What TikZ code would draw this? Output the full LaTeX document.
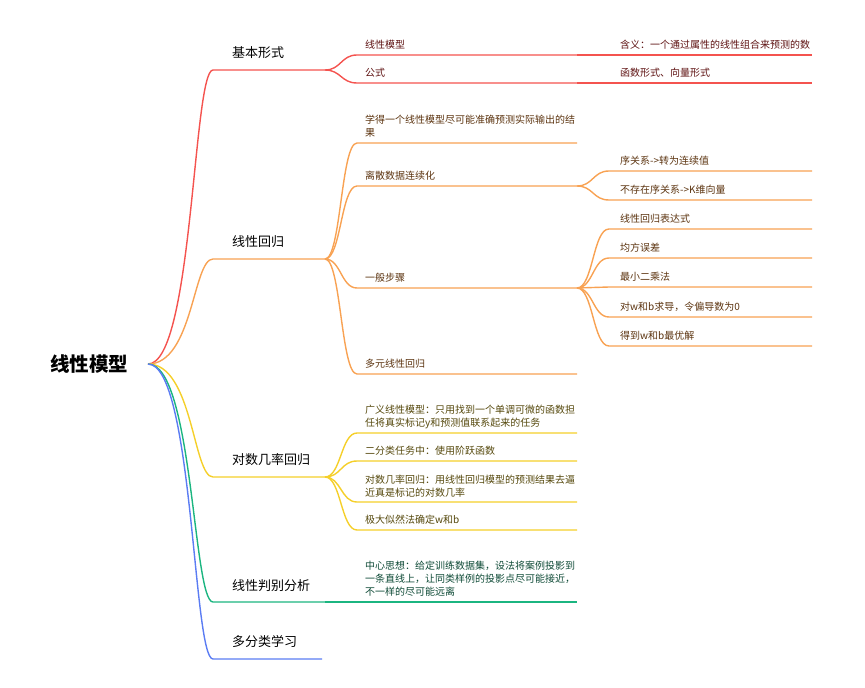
\documentclass[tikz,border=0pt]{standalone}
\usepackage{fontspec}
\setmainfont{Noto Sans CJK SC}
\usepackage{tikz}
\usepackage{color}
\definecolor{lred}{HTML}{F4534F}
\definecolor{lorange}{HTML}{F8A253}
\definecolor{lyellow}{HTML}{F5CF2A}
\definecolor{lgreen}{HTML}{1BB580}
\definecolor{lblue}{HTML}{5B7CF3}
\definecolor{tred}{HTML}{5E1212}
\definecolor{torange}{HTML}{5C3410}
\definecolor{tyellow}{HTML}{55480C}
\definecolor{tgreen}{HTML}{0E4A36}

\begin{document}
\begin{tikzpicture}[x=1pt,y=-1pt,
	every node/.style={inner sep=0pt},
	rootnode/.style={font=\bfseries\fontsize{19.5}{22}\selectfont, text=black},
	topic/.style={anchor=west, font=\fontsize{13}{15}\selectfont, text=black},
	leaf/.style={anchor=west, align=left, font=\fontsize{10}{13}\selectfont},
	branch/.style={line width=1.4pt}]
	\useasboundingbox (0,0) rectangle (865,688);

	\node[rootnode] (root) at (89,364) {线性模型};
	\coordinate (rj) at (148,364);

	% 基本形式
	\node[topic] (jbxs) at (232,53) {基本形式};
	\coordinate (jbxs-s) at (213,70); \coordinate (jbxs-e) at (325,70);
	\draw[branch, lred] (rj) .. controls +(45,0) and +(-20,0) .. (jbxs-s) -- (jbxs-e);
	\node[leaf, text=tred] (xxmx) at (365,44.5) {线性模型};
	\coordinate (xxmx-s) at (357,55); \coordinate (xxmx-e) at (577,55);
	\draw[branch, lred] (jbxs-e) .. controls +(16,0) and +(-16,0) .. (xxmx-s) -- (xxmx-e);
	\node[leaf, text=tred] (hy) at (620,44.5) {含义：一个通过属性的线性组合来预测的数};
	\coordinate (hy-s) at (609,55); \coordinate (hy-e) at (812,55);
	\draw[branch, lred] (xxmx-e) -- (hy-s) -- (hy-e);
	\node[leaf, text=tred] (gs) at (365,72.5) {公式};
	\coordinate (gs-s) at (357,83); \coordinate (gs-e) at (577,83);
	\draw[branch, lred] (jbxs-e) .. controls +(16,0) and +(-16,0) .. (gs-s) -- (gs-e);
	\node[leaf, text=tred] (hsxs) at (620,72.5) {函数形式、向量形式};
	\coordinate (hsxs-s) at (609,83); \coordinate (hsxs-e) at (812,83);
	\draw[branch, lred] (gs-e) -- (hsxs-s) -- (hsxs-e);

	% 线性回归
	\node[topic] (xxhg) at (232,242) {线性回归};
	\coordinate (xxhg-s) at (213,259); \coordinate (xxhg-e) at (325,259);
	\draw[branch, lorange] (rj) .. controls +(45,0) and +(-20,0) .. (xxhg-s) -- (xxhg-e);
	\node[leaf, text=torange] (xd) at (365,126.5) {学得一个线性模型尽可能准确预测实际输出的结\\果};
	\coordinate (xd-s) at (357,143); \coordinate (xd-e) at (577,143);
	\draw[branch, lorange] (xxhg-e) .. controls +(16,0) and +(-16,0) .. (xd-s) -- (xd-e);
	\node[leaf, text=torange] (lssj) at (365,175.5) {离散数据连续化};
	\coordinate (lssj-s) at (357,186); \coordinate (lssj-e) at (577,186);
	\draw[branch, lorange] (xxhg-e) .. controls +(16,0) and +(-16,0) .. (lssj-s) -- (lssj-e);
	\node[leaf, text=torange] (xgx) at (620,160.5) {序关系->转为连续值};
	\coordinate (xgx-s) at (609,171); \coordinate (xgx-e) at (812,171);
	\draw[branch, lorange] (lssj-e) .. controls +(16,0) and +(-16,0) .. (xgx-s) -- (xgx-e);
	\node[leaf, text=torange] (bcz) at (620,189.5) {不存在序关系->K维向量};
	\coordinate (bcz-s) at (609,200); \coordinate (bcz-e) at (812,200);
	\draw[branch, lorange] (lssj-e) .. controls +(16,0) and +(-16,0) .. (bcz-s) -- (bcz-e);
	\node[leaf, text=torange] (ybbz) at (365,277.5) {一般步骤};
	\coordinate (ybbz-s) at (357,288); \coordinate (ybbz-e) at (577,288);
	\draw[branch, lorange] (xxhg-e) .. controls +(16,0) and +(-16,0) .. (ybbz-s) -- (ybbz-e);
	\node[leaf, text=torange] (bds) at (620,218.5) {线性回归表达式};
	\coordinate (bds-s) at (609,229); \coordinate (bds-e) at (812,229);
	\draw[branch, lorange] (ybbz-e) .. controls +(16,0) and +(-16,0) .. (bds-s) -- (bds-e);
	\node[leaf, text=torange] (jfwc) at (620,247.5) {均方误差};
	\coordinate (jfwc-s) at (609,258); \coordinate (jfwc-e) at (812,258);
	\draw[branch, lorange] (ybbz-e) .. controls +(16,0) and +(-16,0) .. (jfwc-s) -- (jfwc-e);
	\node[leaf, text=torange] (zxec) at (620,276.5) {最小二乘法};
	\coordinate (zxec-s) at (609,287); \coordinate (zxec-e) at (812,287);
	\draw[branch, lorange] (ybbz-e) .. controls +(16,0) and +(-16,0) .. (zxec-s) -- (zxec-e);
	\node[leaf, text=torange] (qd) at (620,306.5) {对w和b求导，令偏导数为0};
	\coordinate (qd-s) at (609,317); \coordinate (qd-e) at (812,317);
	\draw[branch, lorange] (ybbz-e) .. controls +(16,0) and +(-16,0) .. (qd-s) -- (qd-e);
	\node[leaf, text=torange] (zyj) at (620,335.5) {得到w和b最优解};
	\coordinate (zyj-s) at (609,346); \coordinate (zyj-e) at (812,346);
	\draw[branch, lorange] (ybbz-e) .. controls +(16,0) and +(-16,0) .. (zyj-s) -- (zyj-e);
	\node[leaf, text=torange] (dyxx) at (365,363.5) {多元线性回归};
	\coordinate (dyxx-s) at (357,374); \coordinate (dyxx-e) at (577,374);
	\draw[branch, lorange] (xxhg-e) .. controls +(16,0) and +(-16,0) .. (dyxx-s) -- (dyxx-e);

	% 对数几率回归
	\node[topic] (dsjl) at (232,460) {对数几率回归};
	\coordinate (dsjl-s) at (213,477); \coordinate (dsjl-e) at (325,477);
	\draw[branch, lyellow] (rj) .. controls +(45,0) and +(-20,0) .. (dsjl-s) -- (dsjl-e);
	\node[leaf, text=tyellow] (gyxx) at (365,416.5) {广义线性模型：只用找到一个单调可微的函数担\\任将真实标记y和预测值联系起来的任务};
	\coordinate (gyxx-s) at (357,433); \coordinate (gyxx-e) at (577,433);
	\draw[branch, lyellow] (dsjl-e) .. controls +(16,0) and +(-16,0) .. (gyxx-s) -- (gyxx-e);
	\node[leaf, text=tyellow] (efl) at (365,450.5) {二分类任务中：使用阶跃函数};
	\coordinate (efl-s) at (357,461); \coordinate (efl-e) at (577,461);
	\draw[branch, lyellow] (dsjl-e) .. controls +(16,0) and +(-16,0) .. (efl-s) -- (efl-e);
	\node[leaf, text=tyellow] (dshg) at (365,486) {对数几率回归：用线性回归模型的预测结果去逼\\近真是标记的对数几率};
	\coordinate (dshg-s) at (357,502); \coordinate (dshg-e) at (577,502);
	\draw[branch, lyellow] (dsjl-e) .. controls +(16,0) and +(-16,0) .. (dshg-s) -- (dshg-e);
	\node[leaf, text=tyellow] (jdsr) at (365,519.5) {极大似然法确定w和b};
	\coordinate (jdsr-s) at (357,530); \coordinate (jdsr-e) at (577,530);
	\draw[branch, lyellow] (dsjl-e) .. controls +(16,0) and +(-16,0) .. (jdsr-s) -- (jdsr-e);

	% 线性判别分析
	\node[topic] (pbfx) at (232,586) {线性判别分析};
	\coordinate (pbfx-s) at (213,602); \coordinate (pbfx-e) at (325,602);
	\draw[branch, lgreen] (rj) .. controls +(45,0) and +(-20,0) .. (pbfx-s) -- (pbfx-e);
	\node[leaf, text=tgreen] (zxsx) at (365,579) {中心思想：给定训练数据集，设法将案例投影到\\一条直线上，让同类样例的投影点尽可能接近，\\不一样的尽可能远离};
	\coordinate (zxsx-s) at (357,602); \coordinate (zxsx-e) at (577,602);
	\draw[branch, lgreen] (pbfx-e) -- (zxsx-s) -- (zxsx-e);

	% 多分类学习
	\node[topic] (dfl) at (232,642) {多分类学习};
	\coordinate (dfl-s) at (213,659); \coordinate (dfl-e) at (322,659);
	\draw[branch, lblue] (rj) .. controls +(45,0) and +(-20,0) .. (dfl-s) -- (dfl-e);
\end{tikzpicture}
\end{document}
